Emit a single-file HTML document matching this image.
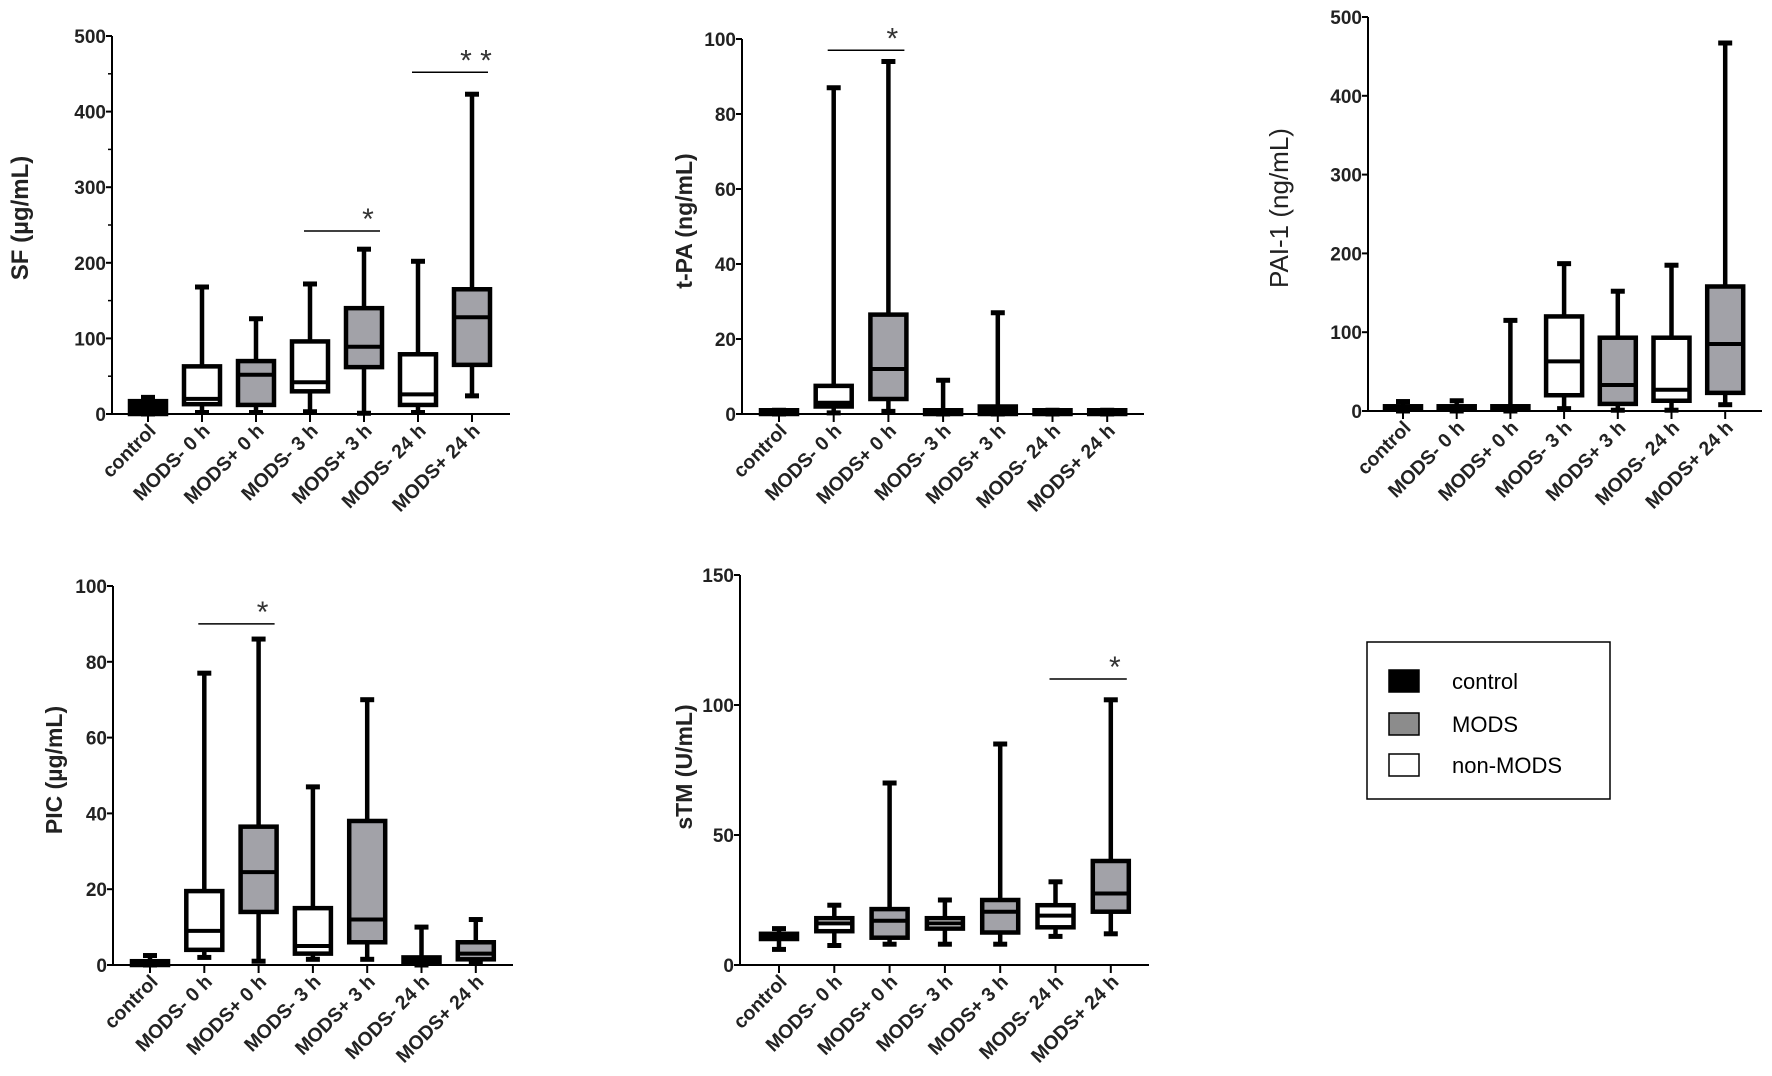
<!DOCTYPE html>
<html><head><meta charset="utf-8"><style>
body{margin:0;background:#fff;}
svg{display:block;font-family:"Liberation Sans",Arial,sans-serif;}
</style></head><body>
<svg id="fig" width="1772" height="1076" viewBox="0 0 1772 1076" xmlns="http://www.w3.org/2000/svg">
<g id="legend">
<rect x="1367" y="642" width="243" height="157" fill="#fff" stroke="#000" stroke-width="1.5"/>
<rect x="1389" y="670" width="30" height="22" fill="#000" stroke="#000" stroke-width="1.5"/>
<text x="1452" y="689" font-size="22">control</text>
<rect x="1389" y="713" width="30" height="22" fill="#8c8c8c" stroke="#000" stroke-width="1.5"/>
<text x="1452" y="732" font-size="22">MODS</text>
<rect x="1389" y="754" width="30" height="22" fill="#fff" stroke="#000" stroke-width="1.5"/>
<text x="1452" y="773" font-size="22">non-MODS</text>
</g>
</svg>
<script>
const categories = ["control","MODS- 0 h","MODS+ 0 h","MODS- 3 h","MODS+ 3 h","MODS- 24 h","MODS+ 24 h"];
const categoriesPIC = ["control","MODS- 0 h","MODS+ 0 h","MODS-  3 h","MODS+  3 h","MODS-  24 h","MODS+  24 h"];
const groupKind = ["control","non","mods","non","mods","non","mods"];
// [min, q1, median, q3, max]
const sfValues = [[0,0,0,17,22],[2,13,20,63,168],[2,12,52,70,126],[3,30,42,96,172],[1,62,89,140,218],[2,12,26,79,202],[24,65,128,165,423]];
const tpaValues = [[0,0,0.5,1,1],[0.3,2,3,7.5,87],[0.7,4,12,26.5,94],[0,0,0.5,1,9],[0,0,1,2,27],[0,0,0.5,1,1],[0,0,0.5,1,1]];
const paiValues = [[0,2,4,6,12],[0,2,4,6,13],[0,2,4,6,115],[3,20,63,120,187],[1,9,33,93,152],[1,13,27,93,185],[8,23,85,158,467]];
const picValues = [[0,0,1,1,2.5],[2,4,9,19.5,77],[1,14,24.5,36.5,86],[1.5,3,5,15,47],[1.5,6,12,38,70],[0,0.5,1,2,10],[0.5,1.5,3,6,12]];
const stmValues = [[6,10,11,12,14],[7.5,13,16,18,23],[8,10.5,17,21.5,70],[8,14,16,18,25],[8,12.5,20.5,25,85],[11,14.5,19,23,32],[12,20.5,27.5,40,102]];
const sfTicks = [0,100,200,300,400,500];
const tpaTicks = [0,20,40,60,80,100];
const paiTicks = [0,100,200,300,400,500];
const picTicks = [0,20,40,60,80,100];
const stmTicks = [0,50,100,150];
// significance: [fromIndex, toIndex, level, stars]
const sfSig = [[3,4,242,"*"],[5,6,452,"* *"]];
const tpaSig = [[1,2,97,"*"]];
const paiSig = [];
const picSig = [[1,2,90,"*"]];
const stmSig = [[5,6,110,"*"]];

const NS="http://www.w3.org/2000/svg";
const fig=document.getElementById('fig');
function mk(tag,attrs,parent){const e=document.createElementNS(NS,tag);for(const k in attrs)e.setAttribute(k,attrs[k]);(parent||fig).appendChild(e);return e;}

function panel(cfg){
  const g=mk('g',{});
  
  
  const y=v=>cfg.y0-(v-cfg.ticks[0])/(cfg.ticks[cfg.ticks.length-1]-cfg.ticks[0])*(cfg.y0-cfg.yTop);
  const x=i=>cfg.x0+cfg.first+i*cfg.step;
  const ax=mk('line',{x1:cfg.x0,y1:cfg.y0,x2:cfg.x0,y2:cfg.yTop,stroke:'#000','stroke-width':2},g);
  
  
  const xa=mk('line',{x1:cfg.x0,y1:cfg.y0,x2:cfg.xEnd,y2:cfg.y0,stroke:'#000','stroke-width':2},g);
  
  
  cfg.ticks.forEach((t,k)=>{
    mk('line',{x1:cfg.x0-6,y1:y(t),x2:cfg.x0,y2:y(t),stroke:'#000','stroke-width':2},g);
    const tl=mk('text',{x:cfg.x0-6,y:y(t)+7,'font-size':19,'font-weight':'bold','text-anchor':'end',fill:'#222'},g);
    tl.textContent=t;
    
    
    if(cfg.minor && k<cfg.ticks.length-1){const m=(t+cfg.ticks[k+1])/2;mk('line',{x1:cfg.x0-4,y1:y(m),x2:cfg.x0,y2:y(m),stroke:'#000','stroke-width':1.5},g);}
  });
  const tt=mk('text',{x:0,y:0,'font-size':cfg.titleSize||22,'font-weight':cfg.titleWeight||'bold','text-anchor':'middle',transform:`translate(${cfg.tx},${cfg.ty}) rotate(-90)`,fill:'#222'},g);
  tt.textContent=cfg.title;
  
  
  const bw=36, cw=14;
  cfg.values.forEach((v,i)=>{
    const cx=x(i);
    mk('line',{x1:cx,y1:cfg.y0,x2:cx,y2:cfg.y0+8,stroke:'#000','stroke-width':2},g);
    const lab=mk('text',{x:0,y:0,'font-size':19.5,'font-weight':'bold','text-anchor':'end',transform:`translate(${cx+9},${cfg.y0+18}) rotate(-45)`,fill:'#222'},g);
    lab.textContent=cfg.cats[i];
    
    
    const bg=mk('g',{},g);
    
    
    const kind=groupKind[i];
    const fill=kind==='control'?'#000':(kind==='mods'?'#a2a2a8':'#fff');
    mk('line',{x1:cx,y1:y(v[0]),x2:cx,y2:y(v[4]),stroke:'#000','stroke-width':4.5},bg);
    mk('line',{x1:cx-cw/2,y1:y(v[0]),x2:cx+cw/2,y2:y(v[0]),stroke:'#000','stroke-width':5},bg);
    mk('line',{x1:cx-cw/2,y1:y(v[4]),x2:cx+cw/2,y2:y(v[4]),stroke:'#000','stroke-width':5},bg);
    const h=Math.max(y(v[1])-y(v[3]),2);
    mk('rect',{x:cx-bw/2,y:y(v[3]),width:bw,height:h,fill:fill,stroke:'#000','stroke-width':4.5},bg);
    mk('line',{x1:cx-bw/2,y1:y(v[2]),x2:cx+bw/2,y2:y(v[2]),stroke:'#000','stroke-width':4},bg);
  });
  cfg.sig.forEach(s=>{
    const sl=mk('line',{x1:x(s[0])-6,y1:y(s[2]),x2:x(s[1])+16,y2:y(s[2]),stroke:'#000','stroke-width':1.5},g);
    
    
    const st=mk('text',{x:x(s[1])+4,y:y(s[2])-2,'font-size':30,'text-anchor':'middle',fill:'#333'},g);
    st.textContent=s[3];
    
    
  });
}
panel({name:'sf',x0:112,xEnd:510,y0:414,yTop:36,first:36,step:54,ticks:sfTicks,values:sfValues,cats:categories,sig:sfSig,title:'SF (µg/mL)',tx:28,ty:218,minor:true,titleSize:24});
panel({name:'tpa',x0:742,xEnd:1144,y0:414,yTop:39,first:37,step:54.7,ticks:tpaTicks,values:tpaValues,cats:categories,sig:tpaSig,title:'t-PA (ng/mL)',tx:692,ty:221,titleSize:23});
panel({name:'pai1',x0:1368,xEnd:1762,y0:411,yTop:17,first:35,step:53.7,ticks:paiTicks,values:paiValues,cats:categories,sig:paiSig,title:'PAI-1 (ng/mL)',tx:1288,ty:208,titleSize:26,titleWeight:'normal'});
panel({name:'pic',x0:113,xEnd:513,y0:965,yTop:586,first:37,step:54.3,ticks:picTicks,values:picValues,cats:categoriesPIC,sig:picSig,title:'PIC (µg/mL)',tx:62,ty:770,titleSize:23});
panel({name:'stm',x0:740,xEnd:1149,y0:965,yTop:575,first:39,step:55.3,ticks:stmTicks,values:stmValues,cats:categories,sig:stmSig,title:'sTM (U/mL)',tx:692,ty:767,titleSize:23});
</script>
</body></html>
